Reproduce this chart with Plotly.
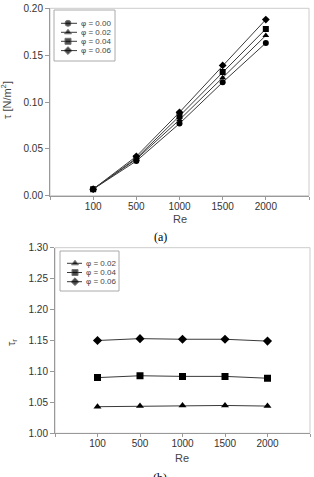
import plotly.graph_objects as go

re_labels = ["100", "500", "1000", "1500", "2000"]
re_pos = [1, 2, 3, 4, 5]

# (a) wall shear stress tau [N/m^2]
tau_phi000 = [0.007, 0.037, 0.077, 0.121, 0.163]
tau_phi002 = [0.007, 0.039, 0.081, 0.126, 0.171]
tau_phi004 = [0.007, 0.040, 0.085, 0.132, 0.178]
tau_phi006 = [0.007, 0.042, 0.089, 0.139, 0.188]

# (b) ratio tau_r
taur_phi002 = [1.043, 1.044, 1.045, 1.045, 1.044]
taur_phi004 = [1.090, 1.093, 1.092, 1.092, 1.089]
taur_phi006 = [1.150, 1.153, 1.152, 1.152, 1.149]

top_names = ["φ = 0.00", "φ = 0.02", "φ = 0.04", "φ = 0.06"]
bot_names = ["φ = 0.02", "φ = 0.04", "φ = 0.06"]

W, H = 314, 477
fig = go.Figure()

line_col = "#3a3a3a"
sym_top = ["circle", "triangle-up", "square", "diamond"]
sym_bot = ["triangle-up", "square", "diamond"]
top_series = [tau_phi000, tau_phi002, tau_phi004, tau_phi006]
bot_series = [taur_phi002, taur_phi004, taur_phi006]

for name, ys, sym in zip(top_names, top_series, sym_top):
    fig.add_trace(go.Scatter(x=re_pos, y=ys, name=name, mode="lines+markers",
                             line=dict(color=line_col, width=1),
                             marker=dict(symbol=sym, color="black", size=6),
                             xaxis="x", yaxis="y", showlegend=False))

for name, ys, sym in zip(bot_names, bot_series, sym_bot):
    fig.add_trace(go.Scatter(x=re_pos, y=ys, name=name, mode="lines+markers",
                             line=dict(color=line_col, width=1),
                             marker=dict(symbol=sym, color="black", size=7),
                             xaxis="x2", yaxis="y2", showlegend=False))

tickfont = dict(family="Liberation Sans, Arial", size=10, color="#333")
xtv = [0, 1, 2, 3, 4, 5, 6]
xtt = [""] + re_labels + [""]

def xax(domain, anchor):
    return dict(domain=domain, anchor=anchor, range=[0, 6], tickvals=xtv, ticktext=xtt,
                showgrid=False, zeroline=False, showline=True, linecolor="#999", linewidth=1,
                ticks="outside", ticklen=3, tickcolor="#999", tickfont=tickfont,
                ticklabelstandoff=-2)

def yax(domain, anchor, rng, dt):
    return dict(domain=domain, anchor=anchor, range=rng, dtick=dt, tick0=rng[0], tickformat=".2f",
                showgrid=False, zeroline=False, showline=True, linecolor="#999", linewidth=1,
                ticks="outside", ticklen=4, tickcolor="#999", tickfont=tickfont)

x1d = [50 / W, 309 / W]
y1d = [1 - 195.7 / H, 1 - 8.3 / H]
x2d = [55 / W, 310 / W]
y2d = [1 - 433.3 / H, 1 - 247.7 / H]

# legend boxes (pixels): x0, x1, y0(top), y1(bottom)
leg1 = (54, 115, 10, 61)
leg2 = (60, 119, 251, 291)

def legax(box):
    x0, x1, yt, yb = box
    xa = dict(domain=[x0 / W, x1 / W], range=[x0, x1], visible=False, fixedrange=True)
    ya = dict(domain=[1 - yb / H, 1 - yt / H], range=[yb, yt], visible=False, fixedrange=True)
    return xa, ya

xa3, ya3 = legax(leg1)
xa4, ya4 = legax(leg2)
xa3["anchor"] = "y3"; ya3["anchor"] = "x3"
xa4["anchor"] = "y4"; ya4["anchor"] = "x4"

fig.update_layout(
    width=W, height=H, margin=dict(l=0, r=0, t=0, b=0, autoexpand=False),
    paper_bgcolor="white", plot_bgcolor="rgba(0,0,0,0)",
    xaxis=xax(x1d, "y"), yaxis=yax(y1d, "x", [0, 0.2], 0.05),
    xaxis2=xax(x2d, "y2"), yaxis2=yax(y2d, "x2", [1.0, 1.3], 0.05),
    xaxis3=xa3, yaxis3=ya3, xaxis4=xa4, yaxis4=ya4,
    showlegend=False,
)

# frames of plots
for xd, yd in [(x1d, y1d), (x2d, y2d)]:
    fig.add_shape(type="rect", xref="paper", yref="paper", x0=xd[0], x1=xd[1], y0=yd[0], y1=yd[1],
                  line=dict(color="#ccc", width=1), layer="below")

legfont = dict(family="Liberation Sans, Arial", size=8, color="#444")

def draw_legend(box, names, syms, rows, lx0, lx1, mx, tx, xr, yr, msize):
    x0, x1, yt, yb = box
    fig.add_shape(type="rect", xref="paper", yref="paper", x0=x0 / W, x1=x1 / W,
                  y0=1 - yb / H, y1=1 - yt / H, line=dict(color="#aaa", width=1),
                  layer="below")
    for name, sym, ry in zip(names, syms, rows):
        fig.add_trace(go.Scatter(x=[lx0, mx, lx1], y=[ry, ry, ry], mode="lines+markers",
                                 line=dict(color=line_col, width=1),
                                 marker=dict(symbol=sym, color="black", size=[0, msize, 0]),
                                 xaxis=xr, yaxis=yr, showlegend=False, hoverinfo="skip",
                                 cliponaxis=False))
        fig.add_annotation(text=name, xref=xr, yref=yr, x=tx, y=ry, xanchor="left",
                           yanchor="middle", showarrow=False, font=legfont)

draw_legend(leg1, top_names, sym_top, [23.3, 32.3, 41.3, 50.6], 61, 77, 68, 79, "x3", "y3", 6)
draw_legend(leg2, bot_names, sym_bot, [263.3, 272.5, 281.7], 67, 82, 75, 84, "x4", "y4", 6)

labfont = dict(family="Liberation Sans, Arial", size=11, color="#444")

def ann(text, px, py, font, angle=0, yanchor="middle"):
    fig.add_annotation(text=text, xref="paper", yref="paper", x=px / W, y=1 - py / H,
                       xanchor="center", yanchor=yanchor, showarrow=False,
                       textangle=angle, font=font)

ann("Re", 180, 219, labfont)
ann("Re", 182, 457.5, labfont)
ann("τ [N/m<sup>2</sup>]", 6, 100, labfont, angle=-90)
ann("τ<sub>r</sub>", 12, 343, labfont, angle=-90)
capfont = dict(family="Liberation Serif, Times New Roman", size=12, color="black")
ann("(a)", 160, 237, capfont)
ann("(b)", 160, 469, capfont, yanchor="top")

fig.write_html("out.html")
